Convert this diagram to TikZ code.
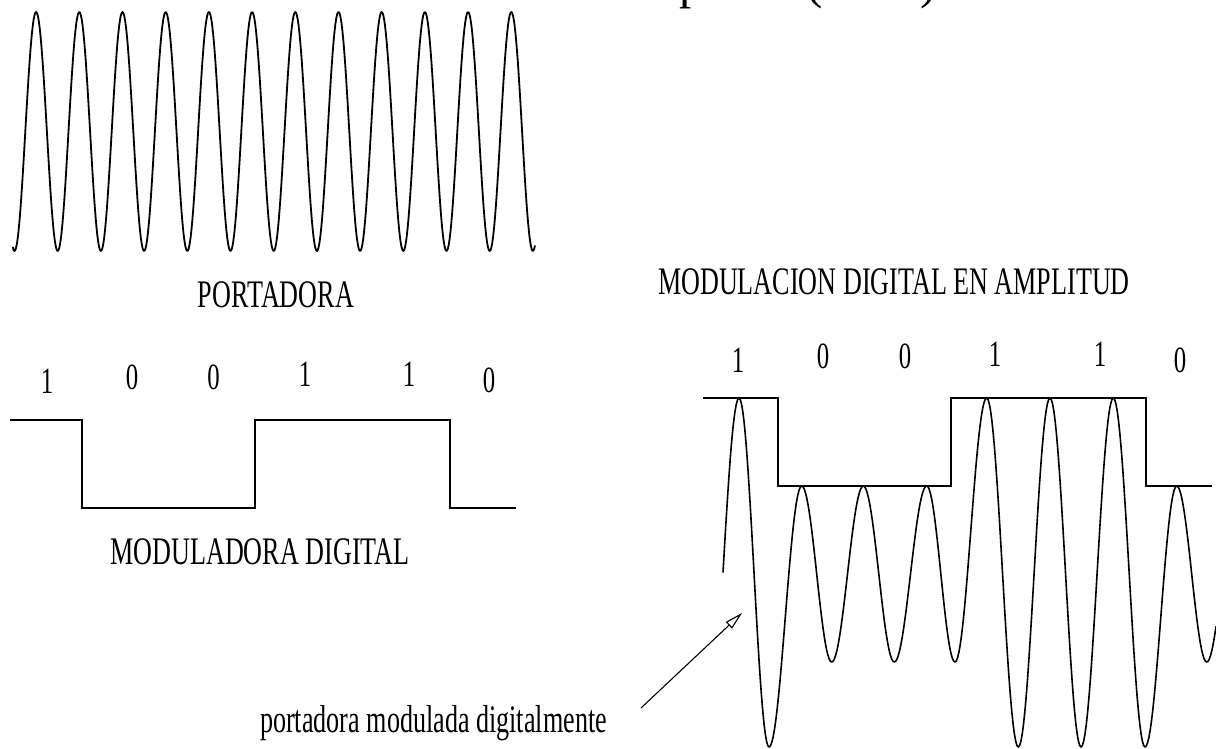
\documentclass[tikz,border=0pt]{standalone}
\usepackage{fontspec}
\setmainfont{Liberation Serif}
\usepackage{graphicx}
\usetikzlibrary{arrows.meta}
\newcommand{\cnd}[1]{\scalebox{0.67}[1]{#1}}
\begin{document}
\begin{tikzpicture}[x=1pt,y=-1pt,
  lbl/.style={font=\fontsize{39}{39}\selectfont, inner sep=0pt, outer sep=0pt},
  digit/.style={font=\fontsize{37}{37}\selectfont, inner sep=0pt, outer sep=0pt},
  bigtitle/.style={font=\fontsize{49}{49}\selectfont, inner sep=0pt, outer sep=0pt},
  carrier/.style={line width=1.8pt, line join=round},
  modwave/.style={line width=1.6pt, line join=round},
  sqwave/.style={line width=2.2pt, line join=miter},
  pointer/.style={line width=1.1pt, -{Triangle[open,length=18pt,width=9pt]}}]

\fill[white] (0,0) rectangle (1216,749);
\useasboundingbox (0,0) rectangle (1216,749);

% title, cut off by the top edge (as in the reference)
\node[bigtitle, anchor=base east] (title) at (937,-1.5) {Modulación en amplitud (ASK)};

% carrier
\draw[carrier] plot[domain=12.7:535, samples=600, variable=\t]
  (\t, {131.5+119.5*cos(8.3333*(\t-14.5))});
\node[lbl] (portadora) at (276,295) {\cnd{PORTADORA}};

% digital modulating signal (left)
\draw[sqwave] (10,420) -- (82,420) -- (82,508) -- (255,508) -- (255,420)
  -- (450,420) -- (450,508) -- (516,508);
\foreach \n/\x/\y/\b in {a/47/381/1, b/132/377.5/0, c/213.5/377.5/0, d/305/374.5/1, e/409/374.5/1, f/489/380/0}
  \node[digit] (l\n) at (\x,\y) {\cnd{\b}};
\node[lbl] (moduladora) at (260,552) {\cnd{MODULADORA DIGITAL}};

% right: ASK
\node[lbl] (askttl) at (894,282) {\cnd{MODULACION DIGITAL EN AMPLITUD}};
\foreach \n/\x/\y/\b in {a/738/360.5/1, b/823/356.5/0, c/905/356.5/0, d/995/354.5/1, e/1100/354.5/1, f/1180/360.5/0}
  \node[digit] (r\n) at (\x,\y) {\cnd{\b}};

\draw[sqwave] (703,398) -- (778,398) -- (778,486) -- (951,486) -- (951,398)
  -- (1146,398) -- (1146,486) -- (1212,486);

\draw[modwave] (723,572.5) -- plot[domain=90:180, samples=12, variable=\t]
    ({723+16*(\t-90)/90}, {572.5+174.5*cos(\t)})
  \foreach \xa/\ya/\xb/\yb in {739/398/769/747, 769/747/801.7/486, 801.7/486/831.7/662,
     831.7/662/863.3/486, 863.3/486/894.3/662, 894.3/662/926.7/486, 926.7/486/955/662,
     955/662/986.7/398, 986.7/398/1018.3/747, 1018.3/747/1050/398, 1050/398/1081/747,
     1081/747/1113.3/398, 1113.3/398/1145/747, 1145/747/1176.7/486, 1176.7/486/1206.7/662}
  { -- plot[domain=0:180, samples=25, variable=\t]
    ({\xa+(\xb-\xa)*\t/180}, {(\ya+\yb)/2+(\ya-\yb)/2*cos(\t)}) }
  -- plot[domain=0:53.5, samples=10, variable=\t]
    ({1206.7+31.3*\t/180}, {574+88*cos(\t)});

% pointer and its label
\node[lbl, anchor=base] (label) at (433.5,732) {\cnd{portadora modulada digitalmente}};
\coordinate (ptail) at (641,708);
\coordinate (ptip) at (742,613);
\draw[pointer] (ptail) -- (ptip);
\end{tikzpicture}
\end{document}
